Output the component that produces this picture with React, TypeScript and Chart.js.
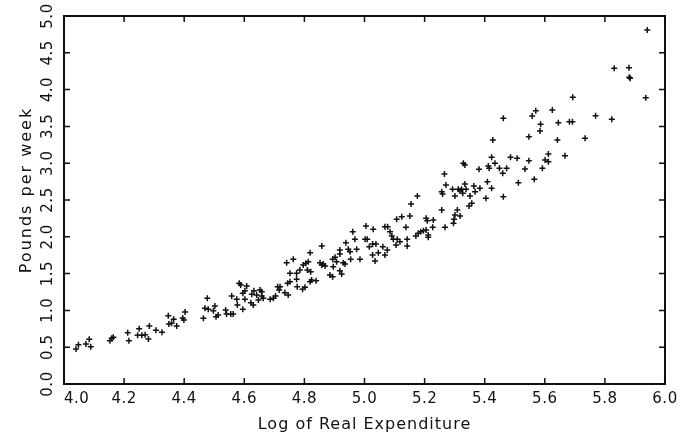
import { useEffect, useRef } from 'react';
import { Chart, registerables } from 'chart.js';

Chart.register(...registerables);

// Log of real expenditure (x) and pounds per week (y)
const logExpenditure = [
  4.040, 4.048, 4.073, 4.084, 4.089, 4.153, 4.159, 4.164, 4.212, 4.216, 4.250, 4.245, 4.259, 4.270, 4.281, 4.284, 4.306, 4.326, 4.347, 4.349, 4.358, 4.365, 4.375, 4.395, 4.403, 4.399,
  4.464, 4.469, 4.477, 4.480, 4.497, 4.506, 4.513, 4.502, 4.538, 4.541, 4.555, 4.563, 4.558, 4.575, 4.577, 4.583, 4.588, 4.595, 4.595, 4.602, 4.608, 4.602, 4.622, 4.625, 4.630, 4.632, 4.641, 4.652, 4.647, 4.658, 4.658, 4.663, 4.686, 4.697, 4.704, 4.711, 4.719, 4.716, 4.735, 4.744, 4.746, 4.752, 4.741, 4.763, 4.752, 4.774, 4.774, 4.776,
  5.107, 5.124, 5.151, 5.155, 5.138, 5.005, 5.029, 5.068, 5.077, 5.085, 5.091, 5.096, 5.105, 5.109, 5.118, 5.142, 5.142, 4.961, 4.968, 4.938, 4.946, 4.952, 4.954, 4.974, 4.985, 5.002, 5.009, 5.016, 5.027, 5.038, 5.027, 5.035, 5.046, 5.061, 5.068, 5.076, 4.858, 4.819, 4.918, 4.918, 4.902, 4.894, 4.907, 4.929, 4.935, 4.896, 4.918, 4.924, 4.885, 4.894, 4.852, 4.858, 4.863, 4.869, 4.824, 4.839, 4.819, 4.796, 4.805, 4.813, 4.810, 4.821, 4.802, 4.794, 4.785,
  5.329, 5.334, 5.266, 5.176, 5.271, 5.257, 5.260, 5.293, 5.301, 5.312, 5.318, 5.323, 5.327, 5.334, 5.338, 5.351, 5.364, 5.368, 5.384, 5.381, 5.412, 5.415, 5.423, 5.434, 5.449, 5.460, 5.473, 5.486, 5.508, 5.512, 5.409, 5.423, 5.404, 5.462, 5.357, 5.348, 5.257, 5.309, 5.301, 5.318, 5.298, 5.296, 5.229, 5.205, 5.209, 5.227, 5.268, 5.205, 5.196, 5.187, 5.179, 5.171, 5.212, 5.212,
  5.462, 5.427, 5.534, 5.547, 5.547, 5.565, 5.558, 5.570, 5.586, 5.584, 5.592, 5.601, 5.612, 5.612, 5.625, 5.645, 5.642, 5.667, 5.682, 5.692, 5.693, 5.734,
  5.941, 5.831, 5.880, 5.881, 5.884, 5.936, 5.769, 5.823,
];

const poundsPerWeek = [
  0.476, 0.534, 0.543, 0.607, 0.507, 0.588, 0.621, 0.635, 0.697, 0.588, 0.751, 0.662, 0.662, 0.670, 0.611, 0.788, 0.730, 0.702, 0.928, 0.815, 0.825, 0.879, 0.788, 0.897, 0.978, 0.870,
  0.893, 1.029, 1.164, 1.015, 0.996, 0.914, 0.938, 1.060, 1.005, 0.951, 0.951, 0.951, 1.196, 1.151, 1.073, 1.368, 1.345, 1.232, 1.015, 1.268, 1.332, 1.151, 1.105, 1.219, 1.073, 1.268, 1.209, 1.277, 1.141, 1.196, 1.254, 1.164, 1.151, 1.164, 1.196, 1.322, 1.322, 1.277, 1.240, 1.368, 1.209, 1.390, 1.648, 1.694, 1.504, 1.504, 1.423, 1.322,
  2.238, 2.273, 2.283, 2.446, 2.129, 2.147, 2.102, 2.137, 2.137, 2.069, 2.011, 1.966, 1.889, 1.966, 1.933, 1.966, 1.875, 2.069, 1.966, 1.920, 1.830, 1.798, 1.694, 1.830, 1.694, 1.966, 1.966, 1.865, 1.902, 1.902, 1.753, 1.671, 1.784, 1.865, 1.753, 1.821, 1.875, 1.784, 1.821, 1.766, 1.721, 1.694, 1.662, 1.648, 1.630, 1.594, 1.539, 1.495, 1.481, 1.458, 1.648, 1.617, 1.630, 1.603, 1.413, 1.404, 1.390, 1.617, 1.640, 1.662, 1.549, 1.526, 1.314, 1.287, 1.549,
  2.999, 2.976, 2.853, 2.554, 2.704, 2.613, 2.582, 2.645, 2.554, 2.645, 2.626, 2.645, 2.591, 2.717, 2.645, 2.554, 2.690, 2.613, 2.659, 2.917, 2.962, 2.931, 3.080, 2.999, 2.931, 2.863, 2.931, 3.080, 3.067, 2.735, 2.749, 2.659, 2.523, 2.545, 2.455, 2.418, 2.364, 2.364, 2.296, 2.283, 2.238, 2.183, 2.228, 2.251, 2.219, 2.129, 2.129, 2.092, 2.083, 2.069, 2.048, 2.011, 2.024, 1.993,
  3.610, 3.315, 2.921, 3.034, 3.360, 2.781, 3.641, 3.713, 3.529, 3.438, 2.931, 3.043, 3.125, 3.020, 3.723, 3.550, 3.315, 3.102, 3.564, 3.564, 3.895, 3.338,
  4.810, 4.289, 4.298, 4.167, 4.154, 3.890, 3.645, 3.596,
];

const xTickValues = [4.0, 4.2, 4.4, 4.6, 4.8, 5.0, 5.2, 5.4, 5.6, 5.8, 6.0];
const yTickValues = [0.0, 0.5, 1.0, 1.5, 2.0, 2.5, 3.0, 3.5, 4.0, 4.5, 5.0];
const xTitle = 'Log of Real Expenditure';
const yTitle = 'Pounds per week';

const INK = '#111111';
const FONT = '"DejaVu Sans", "Liberation Sans", sans-serif';

const framePlugin = {
  id: 'framePlugin',
  afterDraw(chart: any) {
    const { ctx, chartArea: a, scales } = chart;
    const xs = scales.x;
    const ys = scales.y;
    ctx.save();
    ctx.strokeStyle = INK;
    ctx.lineWidth = 2;
    ctx.strokeRect(a.left, a.top, a.right - a.left, a.bottom - a.top);

    const tl = 6;
    ctx.lineWidth = 1.5;
    ctx.beginPath();
    xTickValues.forEach((v) => {
      const px = xs.getPixelForValue(v);
      ctx.moveTo(px, a.bottom);
      ctx.lineTo(px, a.bottom - tl);
      ctx.moveTo(px, a.top);
      ctx.lineTo(px, a.top + tl);
    });
    yTickValues.forEach((v) => {
      const py = ys.getPixelForValue(v);
      ctx.moveTo(a.left, py);
      ctx.lineTo(a.left + tl, py);
      ctx.moveTo(a.right, py);
      ctx.lineTo(a.right - tl, py);
    });
    ctx.stroke();

    ctx.fillStyle = INK;
    ctx.font = `15px ${FONT}`;
    ctx.textBaseline = 'middle';
    (ctx as any).letterSpacing = '0.5px';
    xTickValues.forEach((v, i) => {
      const px = xs.getPixelForValue(v);
      ctx.textAlign = i === 0 ? 'left' : 'center';
      ctx.fillText(v.toFixed(1), px, a.bottom + 15);
    });
    yTickValues.forEach((v) => {
      const py = ys.getPixelForValue(v);
      ctx.save();
      ctx.translate(a.left - 16, py);
      ctx.rotate(-Math.PI / 2);
      ctx.textAlign = 'center';
      ctx.fillText(v.toFixed(1), 0, 0);
      ctx.restore();
    });

    ctx.font = `16px ${FONT}`;
    (ctx as any).letterSpacing = '1px';
    ctx.textAlign = 'center';
    ctx.fillText(xTitle, (a.left + a.right) / 2, a.bottom + 41);

    (ctx as any).letterSpacing = '2px';
    ctx.save();
    ctx.translate(a.left - 37, (a.top + a.bottom) / 2 - 10);
    ctx.rotate(-Math.PI / 2);
    ctx.fillText(yTitle, 0, 0);
    ctx.restore();
    ctx.restore();
  },
};

export default function App() {
  const canvasRef = useRef<HTMLCanvasElement | null>(null);

  useEffect(() => {
    const canvas = canvasRef.current;
    if (!canvas) return;
    const points = logExpenditure.map((x, i) => ({ x, y: poundsPerWeek[i] }));
    const chart = new Chart(canvas, {
      type: 'scatter',
      data: {
        datasets: [
          {
            label: yTitle,
            data: points,
            pointStyle: 'cross',
            pointRadius: 3,
            pointBorderWidth: 1.5,
            borderColor: INK,
            backgroundColor: INK,
            pointHoverRadius: 3,
          },
        ],
      },
      options: {
        animation: false,
        responsive: false,
        devicePixelRatio: 1,
        layout: { padding: { left: 64, right: 28, top: 16, bottom: 54 } },
        plugins: {
          legend: { display: false },
          tooltip: { enabled: false },
          title: { display: false },
        },
        scales: {
          x: { type: 'linear', min: 4.0, max: 6.0, display: false },
          y: { type: 'linear', min: 0.0, max: 5.0, display: false },
        },
        events: [],
      },
      plugins: [framePlugin],
    });
    return () => chart.destroy();
  }, []);

  return (
    <div style={{ position: 'fixed', left: 0, top: 0, width: 693, height: 438, background: '#ffffff' }}>
      <canvas ref={canvasRef} width={693} height={438} style={{ display: 'block' }} />
    </div>
  );
}
